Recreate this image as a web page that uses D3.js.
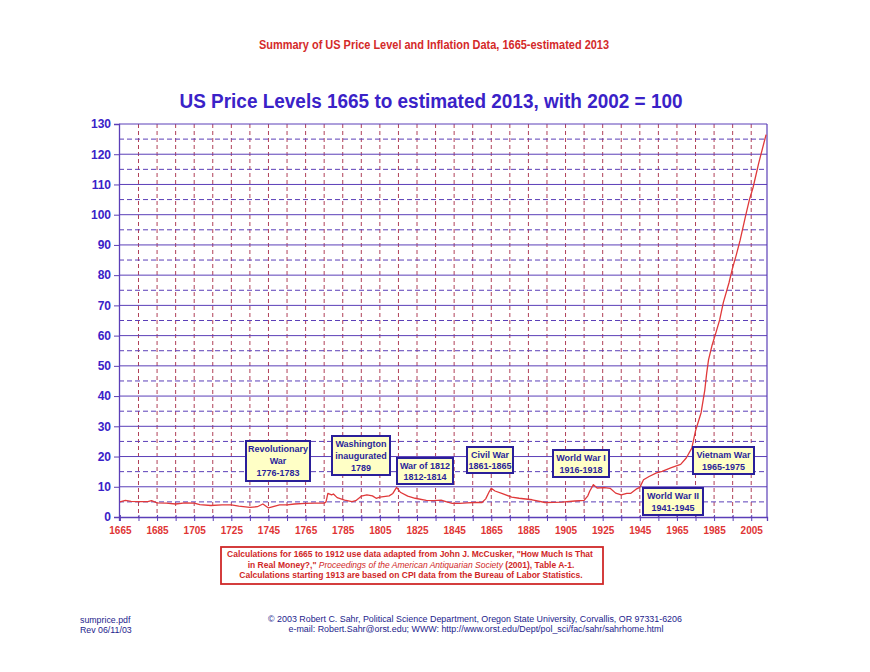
<!DOCTYPE html>
<html><head><meta charset="utf-8">
<script src="https://cdn.jsdelivr.net/npm/d3@7/dist/d3.min.js"></script>
<style>
html,body{margin:0;padding:0;background:#fff;}
svg{display:block;font-family:"Liberation Sans",Arial,sans-serif;}
</style></head>
<body>
<script>
// ---- data ----
const years = [1665,1668,1671,1675,1680,1682,1685,1690,1695,1700,1705,1708,1714,1720,1725,1729,1735,1739,1742,1745,1748,1751,1755,1759,1765,1770,1775,1776,1777,1779,1780,1782,1786,1790,1792,1795,1798,1801,1803,1805,1810,1812,1814,1816,1820,1824,1830,1834,1838,1841,1844,1848,1852,1856,1860,1862,1864,1865,1867,1871,1876,1880,1887,1894,1903,1910,1915,1917,1918,1920,1922,1926,1929,1932,1935,1938,1940,1943,1945,1947,1950,1954,1957,1962,1967,1970,1973,1975,1978,1980,1981,1982,1984,1986,1988,1990,1993,1995,1997,1999,2002,2004,2006,2009,2013];
const priceLevel = [5.0,5.5,5.2,5.1,5.1,5.4,4.7,4.6,4.3,4.7,4.6,4.1,3.8,4.0,4.0,3.6,3.2,3.4,4.3,3.0,3.5,4.0,4.0,4.3,4.5,4.6,4.6,5.0,7.8,7.3,7.6,6.4,5.6,5.1,5.4,6.9,7.3,7.0,6.2,6.6,7.0,7.8,9.8,8.2,6.9,6.2,5.5,5.4,5.6,5.0,4.5,4.5,4.7,4.8,4.8,6.0,8.5,9.5,8.6,7.7,6.6,6.2,5.7,4.8,4.9,5.3,5.5,7.0,8.5,10.7,9.6,9.7,9.5,7.9,7.3,7.8,7.8,9.2,9.8,12.3,13.4,14.6,15.1,16.3,17.4,19.5,22.8,28.5,34.5,42.0,47.5,52.0,57.0,61.0,65.2,71.0,77.4,82.5,86.8,91.5,99.7,104.9,109.0,117.0,126.5];
const yTicks = [0,10,20,30,40,50,60,70,80,90,100,110,120,130];
const yDashTicks = [5,15,25,35,45,55,65,75,85,95,105,115,125];
const xLabelYears = [1665,1685,1705,1725,1745,1765,1785,1805,1825,1845,1865,1885,1905,1925,1945,1965,1985,2005];
const xTickYears = d3.range(1665, 2006, 10);
const xGridYears = d3.range(1675, 2006, 10);
const annotationLines = [
  ["Revolutionary","War","1776-1783"],
  ["Washington","inaugurated","1789"],
  ["War of 1812","1812-1814"],
  ["Civil War","1861-1865"],
  ["World War I","1916-1918"],
  ["World War II","1941-1945"],
  ["Vietnam War","1965-1975"]
];
const titleText = "US Price Levels 1665 to estimated 2013, with 2002 = 100";
const supTitle = "Summary of US Price Level and Inflation Data, 1665-estimated 2013";

// ---- layout ----
const W = 870, H = 672;
const L = 119, R = 767, T = 124, B = 517;
const annotationBoxes = [
  {x:246,y:441,w:64,h:40},
  {x:332,y:436,w:58,h:39},
  {x:397,y:458,w:56,h:26},
  {x:467,y:447,w:46,h:26},
  {x:553,y:450,w:56,h:27},
  {x:643,y:488,w:60,h:27},
  {x:693,y:447,w:61,h:27}
];
const purple = "#5b3fb8", gridRed = "#b04058", lineRed = "#e0393a", blue = "#3a22c8";

const svg = d3.select("body").append("svg").attr("width", W).attr("height", H);

const x = d3.scaleLinear().domain([1664.5, 2013.5]).range([L, R]);
const y = d3.scaleLinear().domain([0, 130]).range([B, T]);

// titles
svg.append("text").attr("x", 434).attr("y", 49).attr("text-anchor","middle")
  .attr("font-family","'Liberation Sans Narrow','Liberation Sans',Arial").attr("font-size",12).attr("font-weight","bold")
  .attr("fill","#d42a2a").attr("textLength",350).attr("lengthAdjust","spacingAndGlyphs").text(supTitle);
svg.append("text").attr("x", 431).attr("y", 108).attr("text-anchor","middle")
  .attr("font-size",20).attr("font-weight","bold").attr("fill",blue)
  .attr("textLength",503).attr("lengthAdjust","spacingAndGlyphs").text(titleText);

// gridlines
const g = svg.append("g");
g.selectAll("line.vgrid").data(xGridYears).join("line").attr("class","vgrid")
  .attr("x1", d=>x(d)).attr("x2", d=>x(d)).attr("y1", T).attr("y2", B)
  .attr("stroke", gridRed).attr("stroke-width",1).attr("stroke-dasharray","4,3");
g.selectAll("line.hdash").data(yDashTicks).join("line").attr("class","hdash")
  .attr("x1", L).attr("x2", R).attr("y1", d=>y(d)).attr("y2", d=>y(d))
  .attr("stroke", purple).attr("stroke-width",1).attr("stroke-dasharray","5,3");
g.selectAll("line.hsolid").data(yTicks.filter(d=>d>0)).join("line").attr("class","hsolid")
  .attr("x1", L).attr("x2", R).attr("y1", d=>y(d)).attr("y2", d=>y(d))
  .attr("stroke", purple).attr("stroke-width",1);
g.append("line").attr("x1",R).attr("x2",R).attr("y1",T).attr("y2",B).attr("stroke",purple).attr("stroke-width",1.2);

// axes
const yAxis = svg.append("g").attr("transform",`translate(${L},0)`)
  .call(d3.axisLeft(y).tickValues(yTicks).tickSize(5).tickPadding(3).tickFormat(d3.format("d")));
yAxis.select(".domain").attr("stroke",purple).attr("stroke-width",1.3);
yAxis.selectAll(".tick line").attr("stroke",purple);
yAxis.selectAll(".tick text").attr("fill",blue).attr("font-size",12).attr("font-weight","bold")
  .attr("font-family","'Liberation Sans',Arial");

const xAxis = svg.append("g").attr("transform",`translate(0,${B})`)
  .call(d3.axisBottom(x).tickValues(xTickYears).tickSize(4).tickPadding(6)
    .tickFormat(d => xLabelYears.includes(d) ? String(d) : ""));
xAxis.select(".domain").attr("stroke",purple).attr("stroke-width",1.3);
xAxis.selectAll(".tick line").attr("stroke",purple).attr("y1",-2);
xAxis.selectAll(".tick text").attr("fill","#e03535").attr("font-size",10).attr("font-weight","bold")
  .attr("font-family","'Liberation Sans',Arial");

// series
const series = years.map((yr,i)=>[yr, priceLevel[i]]);
svg.append("path").datum(series)
  .attr("fill","none").attr("stroke",lineRed).attr("stroke-width",1.3).attr("stroke-linejoin","round")
  .attr("d", d3.line().x(d=>x(d[0])).y(d=>y(d[1])));

// annotations
annotationLines.forEach((lines,i)=>{
  const b = annotationBoxes[i];
  const ga = svg.append("g");
  ga.append("rect").attr("x",b.x).attr("y",b.y).attr("width",b.w).attr("height",b.h)
    .attr("fill","#ffffc6").attr("stroke","#2a1f9a").attr("stroke-width",2);
  const lh = lines.length === 3 ? 12 : 11.5;
  const startY = b.y + b.h/2 - (lines.length-1)*lh/2 + 3.3;
  lines.forEach((t,j)=>{
    ga.append("text").attr("x", b.x+b.w/2).attr("y", startY + j*lh).attr("text-anchor","middle")
      .attr("font-size",9).attr("font-weight","bold").attr("fill","#2a1f9a").text(t);
  });
});

// note box
const note = svg.append("g");
note.append("rect").attr("x",221).attr("y",547).attr("width",382).attr("height",37)
  .attr("fill","#fff").attr("stroke","#d02828").attr("stroke-width",1.8);
const noteColor = "#d02828";
note.append("text").attr("x",410).attr("y",557).attr("text-anchor","middle").attr("font-size",8.5).attr("font-weight","bold")
  .attr("fill",noteColor).text('Calculations for 1665 to 1912 use data adapted from John J. McCusker, "How Much Is That');
const l2 = note.append("text").attr("x",411).attr("y",567.5).attr("text-anchor","middle").attr("font-size",8.5).attr("fill",noteColor);
l2.append("tspan").attr("font-weight","bold").text('in Real Money?,"  ');
l2.append("tspan").attr("font-style","italic").text("Proceedings of the American Antiquarian Society");
l2.append("tspan").attr("font-weight","bold").text(" (2001), Table A-1.");
note.append("text").attr("x",411).attr("y",578).attr("text-anchor","middle").attr("font-size",8.5).attr("font-weight","bold")
  .attr("fill",noteColor).text("Calculations starting 1913 are based on CPI data from the Bureau of Labor Statistics.");

// footer
const footColor = "#1c1c8c";
svg.append("text").attr("x",80).attr("y",623).attr("font-size",8.8).attr("fill",footColor).text("sumprice.pdf");
svg.append("text").attr("x",80).attr("y",633).attr("font-size",8.8).attr("fill",footColor).text("Rev 06/11/03");
svg.append("text").attr("x",475).attr("y",622).attr("text-anchor","middle").attr("font-size",8.9).attr("fill",footColor)
  .text("\u00a9 2003 Robert C. Sahr, Political Science Department, Oregon State University, Corvallis, OR  97331-6206");
svg.append("text").attr("x",476).attr("y",632).attr("text-anchor","middle").attr("font-size",8.9).attr("fill",footColor)
  .text("e-mail:  Robert.Sahr@orst.edu; WWW:  http://www.orst.edu/Dept/pol_sci/fac/sahr/sahrhome.html");
</script>
</body></html>
